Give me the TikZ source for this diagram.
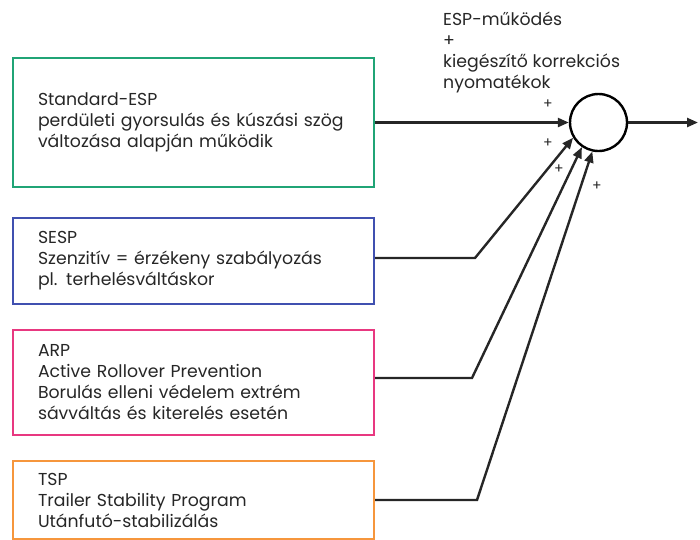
\documentclass[tikz,border=0pt]{standalone}
\usepackage{fontspec}
\setmainfont{Poppins}
\usetikzlibrary{arrows.meta}
\definecolor{espgreen}{RGB}{32,164,118}
\definecolor{sespblue}{RGB}{64,80,176}
\definecolor{arppink}{RGB}{232,56,128}
\definecolor{tsporange}{RGB}{246,150,60}
\begin{document}
\begin{tikzpicture}[x=1pt,y=-1pt,
    every node/.style={font=\fontsize{17.3}{21}\selectfont, text=black!85},
    funcbox/.style={draw=#1, line width=2.2pt, minimum width=361pt, text width=311pt,
      inner xsep=25pt, inner ysep=0pt, align=left},
    conn/.style={line width=2.4pt, black!85},
    arr/.style={conn, -{Triangle[length=11pt,width=9pt]}},
    plus/.style={font=\fontsize{14}{14}\selectfont, inner sep=0pt}]
  \useasboundingbox (0,0) rectangle (700,539);
  % boxes
  \node[funcbox=espgreen, minimum height=129pt] (esp) at (193.5,122.5)
    {Standard-ESP\\perdületi gyorsulás és kúszási szög\\változása alapján működik};
  \node[funcbox=sespblue, minimum height=86pt] (sesp) at (193.5,261)
    {SESP\\Szenzitív = érzékeny szabályozás\\pl. terhelésváltáskor};
  \node[funcbox=arppink, minimum height=105pt] (arp) at (193.5,382.5)
    {ARP\\Active Rollover Prevention\\Borulás elleni védelem extrém\\sávváltás és kiterelés esetén};
  \node[funcbox=tsporange, minimum height=78pt] (tsp) at (193.5,500)
    {TSP\\Trailer Stability Program\\Utánfutó-stabilizálás};
  % summing point
  \node[draw, circle, line width=2.4pt, minimum size=57pt, inner sep=0pt] (sum) at (598.5,122.5) {};
  \coordinate (out) at (698,122.5);
  \node[anchor=north west, align=left, inner sep=0pt] (label) at (443,12)
    {ESP-működés\\+\\kiegészítő korrekciós\\nyomatékok};
  % knees
  \coordinate (sespknee) at (475,258);
  \coordinate (arpknee) at (472,378);
  \coordinate (tspknee) at (477,500);
  % connectors
  \draw[arr] (esp.east) -- (sum.west);
  \draw[arr] (sum.east) -- (out);
  \draw[arr] (sesp.east |- sespknee) -- (sespknee) -- (sum.211);
  \draw[arr] (arp.east |- arpknee) -- (arpknee) -- (sum.236);
  \draw[arr] (tsp.east |- tspknee) -- (tspknee) -- (sum.258);
  % signs
  \node[plus] (p1) at (548,104) {+};
  \node[plus] (p2) at (548,143) {+};
  \node[plus] (p3) at (559,169) {+};
  \node[plus] (p4) at (597,186) {+};
\end{tikzpicture}
\end{document}
